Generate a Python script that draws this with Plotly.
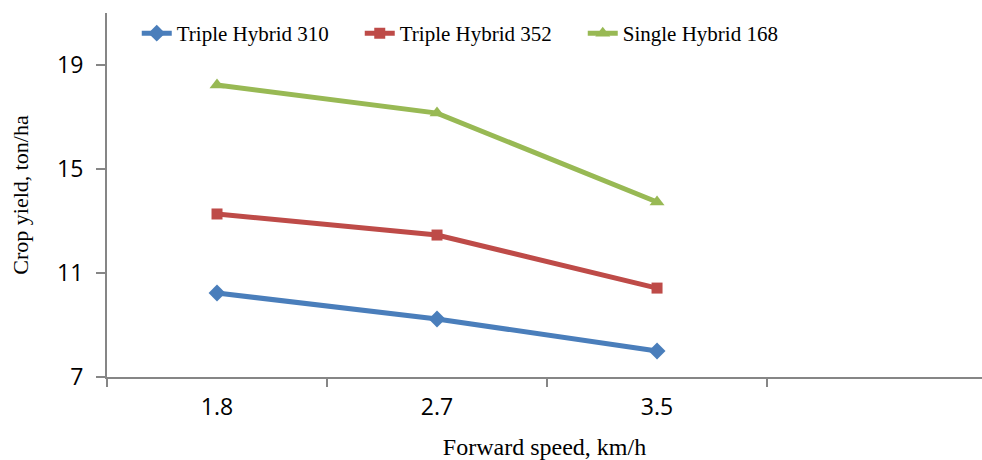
import plotly.graph_objects as go

# Forward speed categories (the fourth slot is left empty)
speeds = ["1.8", "2.7", "3.5"]
axis_slots = ["1.8", "2.7", "3.5", " "]

# Crop yield, ton/ha
hybrid_310 = [10.23, 9.23, 8.0]
hybrid_352 = [13.27, 12.46, 10.42]
hybrid_168 = [18.23, 17.15, 13.73]

series = [
    ("Triple Hybrid 310", hybrid_310, "#4A7EBB", "diamond", 13),
    ("Triple Hybrid 352", hybrid_352, "#BE4B48", "square", 11),
    ("Single Hybrid 168", hybrid_168, "#98B954", "triangle-up", 13),
]

fig = go.Figure()
for name, vals, color, symbol, size in series:
    fig.add_trace(go.Scatter(
        x=speeds, y=vals, name=name, mode="lines+markers",
        line=dict(color=color, width=5),
        marker=dict(symbol=symbol, size=size, color=color),
    ))

axis_color = "#868686"
fig.update_layout(
    width=982, height=460,
    margin=dict(l=107, r=0, t=13, b=83),
    paper_bgcolor="white", plot_bgcolor="white",
    showlegend=True,
    legend=dict(
        orientation="h", x=0.034, y=1.0, xanchor="left", yanchor="top",
        font=dict(family="Liberation Serif", size=21, color="black"),
        bgcolor="rgba(0,0,0,0)", entrywidth=178, entrywidthmode="pixels",
        tracegroupgap=0,
    ),
    xaxis=dict(
        type="category", categoryorder="array", categoryarray=axis_slots,
        range=[-0.5, 3.477], tickson="boundaries",
        showline=True, linecolor=axis_color, linewidth=2,
        ticks="outside", ticklen=8, tickcolor=axis_color, tickwidth=1.5,
        showgrid=False, zeroline=False, ticklabelstandoff=8,
        tickfont=dict(family="Open Sans", size=23, color="black"),
        title=dict(text="Forward speed, km/h", standoff=18,
                   font=dict(family="Liberation Serif", size=24, color="black")),
    ),
    yaxis=dict(
        range=[7, 21], tickvals=[7, 11, 15, 19],
        showline=True, linecolor=axis_color, linewidth=2,
        ticks="outside", ticklen=9, tickcolor=axis_color, tickwidth=1.5,
        showgrid=False, zeroline=False, ticklabelstandoff=8,
        tickfont=dict(family="Open Sans", size=23, color="black"),
        title=dict(text="Crop yield, ton/ha", standoff=22,
                   font=dict(family="Liberation Serif", size=22, color="black")),
    ),
)

fig.write_html("out.html")
